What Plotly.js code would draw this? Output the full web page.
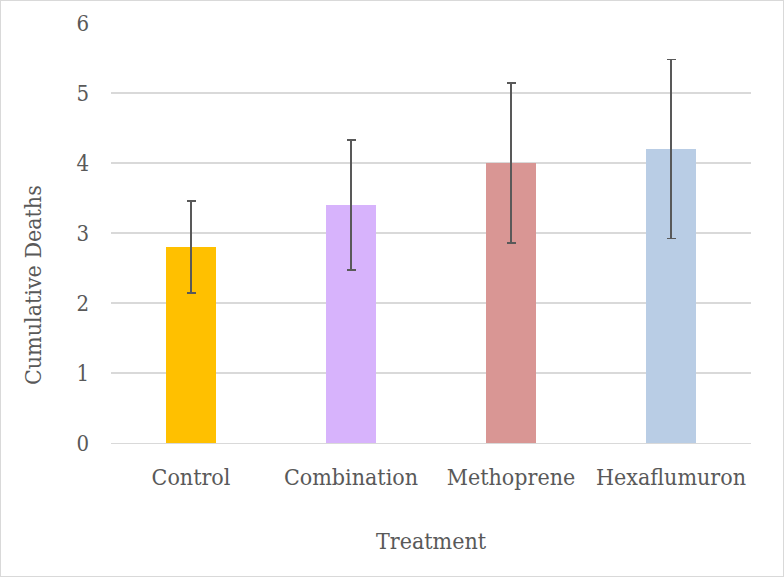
<!DOCTYPE html>
<html>
<head>
<meta charset="utf-8">
<script src="https://cdn.plot.ly/plotly-3.0.1.min.js"></script>
<style>
html,body{margin:0;padding:0;background:#fff;}
#chart{width:784px;height:577px;box-sizing:border-box;border:1px solid #d9d9d9;}
</style>
</head>
<body>
<div id="chart"></div>
<script>
var categories = ["Control", "Combination", "Methoprene", "Hexaflumuron"];
var deaths = [2.8, 3.4, 4.0, 4.2];
var errors = [0.66, 0.93, 1.14, 1.28];
var barColors = ["#FFC000", "#D7B3FC", "#D99694", "#B9CDE5"];
var yTicks = [0, 1, 2, 3, 4, 5, 6];

var FONT = "'DejaVu Serif Condensed', 'Liberation Serif', serif";

var trace = {
  type: "bar",
  x: categories,
  y: deaths,
  marker: {color: barColors},
  width: 0.3125,
  error_y: {type: "data", array: errors, visible: true, color: "#595959", thickness: 1.75, width: 4.5},
  hoverinfo: "x+y"
};

var layout = {
  width: 782, height: 575,
  margin: {l: 110, r: 32, t: 22, b: 133},
  paper_bgcolor: "#fff", plot_bgcolor: "#fff",
  showlegend: false,
  bargap: 0,
  font: {family: FONT, color: "#595959", size: 22},
  xaxis: {
    title: {text: "Treatment", font: {family: FONT, size: 23, color: "#595959"}, standoff: 44},
    showgrid: false, showline: true, linecolor: "#d9d9d9", linewidth: 1,
    ticks: "", ticklabelstandoff: 13,
    tickfont: {family: FONT, size: 23, color: "#595959"}
  },
  yaxis: {
    range: [0, 6], tickvals: yTicks, ticktext: yTicks.map(String),
    showgrid: true, gridcolor: "#d9d9d9", gridwidth: 1.3,
    zeroline: false, showline: false, ticks: "", ticklabelstandoff: 21,
    tickfont: {family: FONT, size: 22, color: "#595959"}
  },
  annotations: [{
    text: "Cumulative Deaths", textangle: -90,
    xref: "paper", yref: "paper", x: -0.1225, y: 0.375,
    xanchor: "center", yanchor: "middle", showarrow: false,
    font: {family: FONT, size: 23, color: "#595959"}
  }]
};

Plotly.newPlot("chart", [trace], layout, {displayModeBar: false, staticPlot: true});
</script>
</body>
</html>
